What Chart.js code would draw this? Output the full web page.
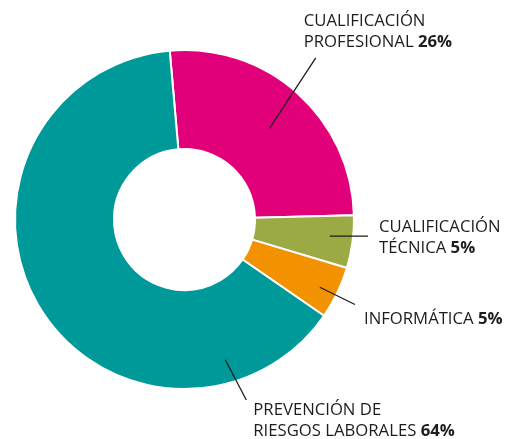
<!DOCTYPE html>
<html>
<head>
<meta charset="utf-8">
<script src="https://cdn.jsdelivr.net/npm/chart.js@4/dist/chart.umd.min.js"></script>
<style>
  html, body { margin: 0; padding: 0; background: #fff; }
  #wrap { width: 519px; height: 439px; }
</style>
</head>
<body>
<div id="wrap"><canvas id="donut" width="519" height="439"></canvas></div>
<script>
// Datos del gráfico
const categories = ["CUALIFICACIÓN PROFESIONAL", "CUALIFICACIÓN TÉCNICA", "INFORMÁTICA", "PREVENCIÓN DE RIESGOS LABORALES"];
const values = [26, 5, 5, 64];
const colors = ["#E2007A", "#9BAA45", "#F39200", "#009999"];

// Texto de las etiquetas (líneas, la última lleva el porcentaje en negrita)
const labelLines = [
  ["CUALIFICACIÓN", "PROFESIONAL"],
  ["CUALIFICACIÓN", "TÉCNICA"],
  ["INFORMÁTICA"],
  ["PREVENCIÓN DE", "RIESGOS LABORALES"]
];

// Líneas guía en coordenadas polares: [ánguloInicio, radioInicio, ánguloFin, radioFin]
// (grados desde arriba en sentido horario, radio como fracción del radio exterior)
const leaders = [
  [43.0, 0.735, 39.1, 1.228],
  [96.5, 0.863, 95.2, 1.087],
  [116.6, 0.893, 116.5, 1.124],
  [163.8, 0.862, 161.1, 1.126]
];
// Desplazamiento del texto respecto al final de la guía: [dx, dy de la primera línea base]
const labelOffsets = [
  [-12, -32],
  [11, -4],
  [9, 19],
  [7, 15]
];

const FONT_FAMILY = "'Open Sans', 'Noto Sans', sans-serif";
const FONT_SIZE = 16.7;
const LINE_HEIGHT = 21;

const leaderPlugin = {
  id: "leaderLabels",
  afterDraw: (chart) => {
    const ctx = chart.ctx;
    const arcs = chart.getDatasetMeta(0).data;
    if (!arcs.length) return;
    const cx = arcs[0].x;
    const cy = arcs[0].y;
    const R = arcs[0].outerRadius;
    const pt = (deg, frac) => {
      const a = (deg - 90) * Math.PI / 180;
      return [cx + Math.cos(a) * R * frac, cy + Math.sin(a) * R * frac];
    };
    ctx.save();
    leaders.forEach((l, i) => {
      const p1 = pt(l[0], l[1]);
      const p2 = pt(l[2], l[3]);
      ctx.strokeStyle = "#1d1d1b";
      ctx.lineWidth = 1.3;
      ctx.beginPath();
      ctx.moveTo(p1[0], p1[1]);
      ctx.lineTo(p2[0], p2[1]);
      ctx.stroke();

      const tx = p2[0] + labelOffsets[i][0];
      let ty = p2[1] + labelOffsets[i][1];
      ctx.fillStyle = "#1d1d1b";
      ctx.textBaseline = "alphabetic";
      ctx.textAlign = "left";
      const lines = labelLines[i];
      lines.forEach((line, j) => {
        ctx.font = FONT_SIZE + "px " + FONT_FAMILY;
        ctx.fillText(line, tx, ty);
        if (j === lines.length - 1) {
          const w = ctx.measureText(line + " ").width;
          ctx.font = "bold " + FONT_SIZE + "px " + FONT_FAMILY;
          ctx.fillText(values[i] + "%", tx + w, ty);
        }
        ty += LINE_HEIGHT;
      });
    });
    ctx.restore();
  }
};

const ctx = document.getElementById("donut").getContext("2d");
const chart = new Chart(ctx, {
  type: "doughnut",
  data: {
    labels: categories,
    datasets: [{
      data: values,
      backgroundColor: colors,
      borderColor: "#ffffff",
      borderWidth: 2,
      hoverOffset: 0
    }]
  },
  options: {
    responsive: false,
    animation: false,
    rotation: -5,
    cutout: "41.6%",
    layout: {
      padding: { left: 14, top: 49, right: 164, bottom: 49 }
    },
    plugins: {
      legend: { display: false },
      tooltip: { enabled: false }
    }
  },
  plugins: [leaderPlugin]
});
</script>
</body>
</html>
